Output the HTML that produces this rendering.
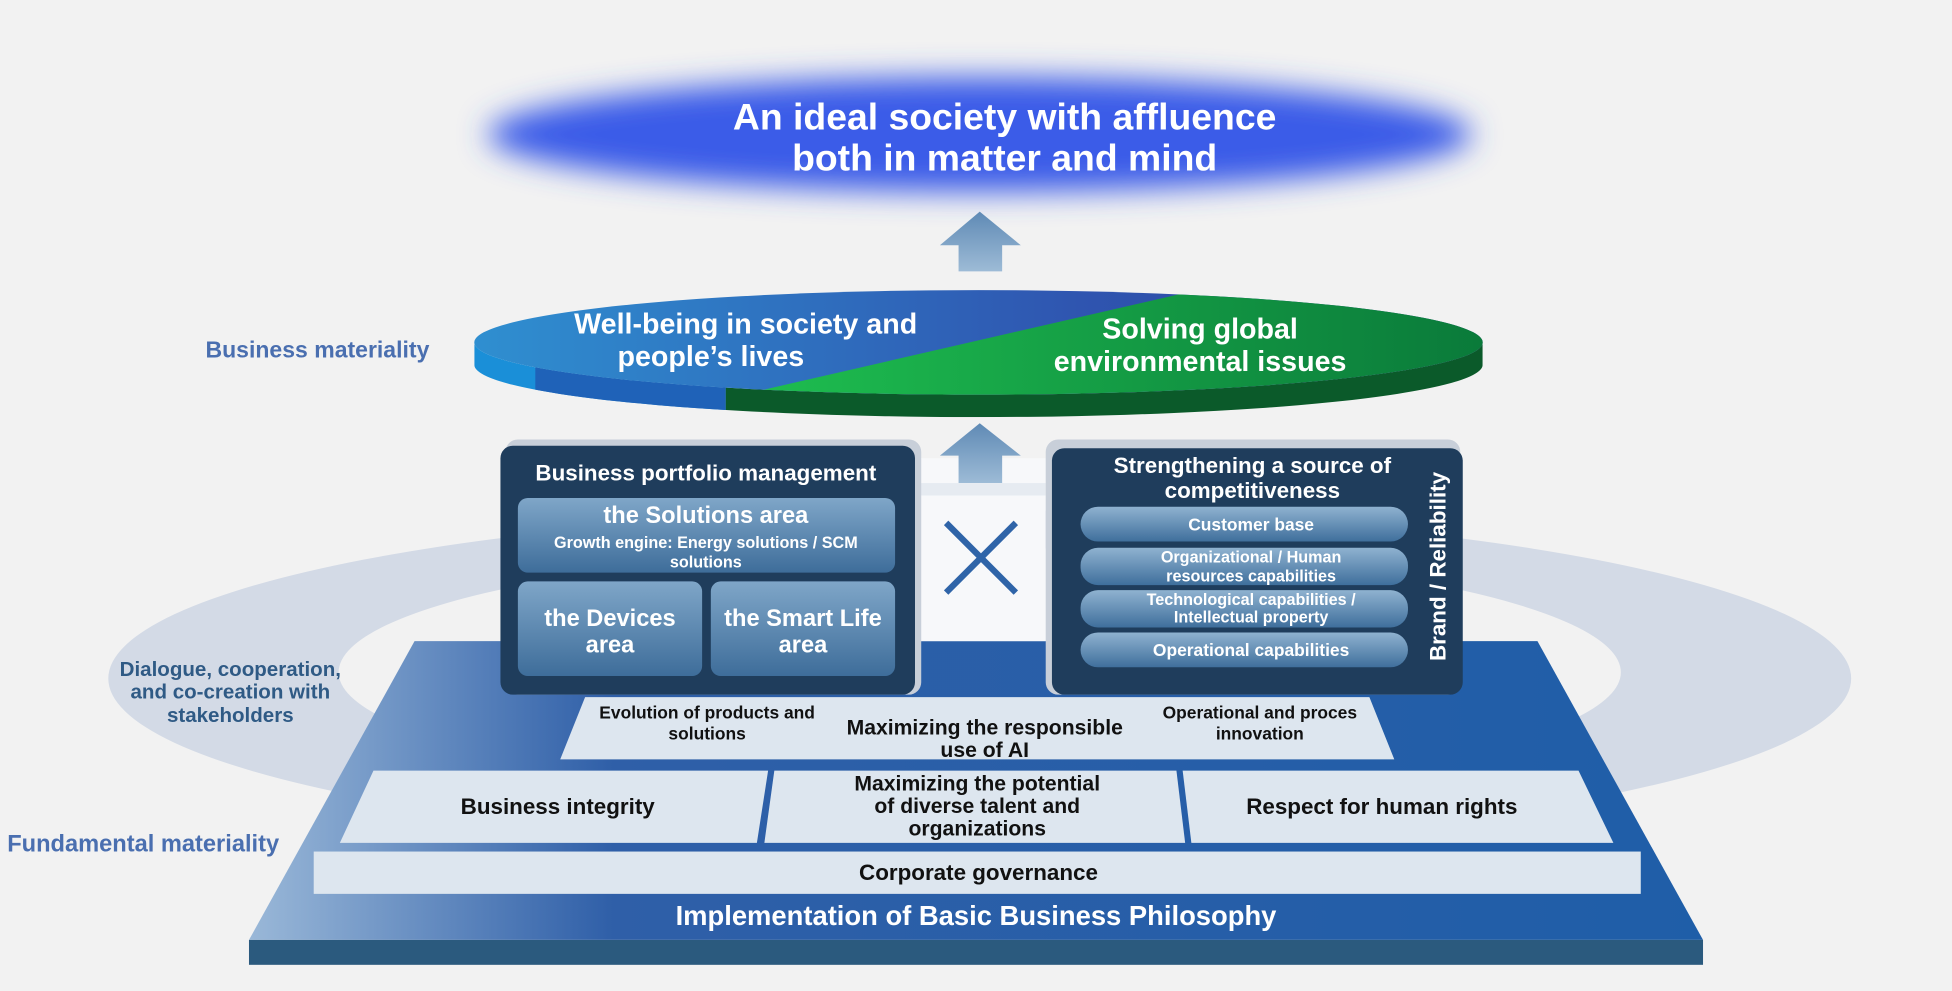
<!DOCTYPE html>
<html><head><meta charset="utf-8"><style>
html,body{margin:0;padding:0;background:#f2f2f2;width:1952px;height:991px;overflow:hidden}
svg{display:block}
text{font-family:"Liberation Sans",Arial,sans-serif;font-weight:bold}
</style></head><body>
<svg width="1952" height="991" viewBox="0 0 1568 796" xmlns="http://www.w3.org/2000/svg">
<defs>
<filter id="blur" x="-20%" y="-60%" width="140%" height="220%"><feGaussianBlur stdDeviation="12"/></filter>
<linearGradient id="plat" x1="0" x2="1" y1="0" y2="0">
<stop offset="0" stop-color="#9ab8d8"/><stop offset="0.25" stop-color="#2f5fa8"/><stop offset="1" stop-color="#1f5ea8"/></linearGradient>
<linearGradient id="arr" x1="0" x2="0" y1="0" y2="1"><stop offset="0" stop-color="#5f8ab5"/><stop offset="1" stop-color="#9dbbd6"/></linearGradient>
<linearGradient id="blueTop" x1="0" x2="1"><stop offset="0" stop-color="#2f8fd0"/><stop offset="0.6" stop-color="#2f55b0"/><stop offset="1" stop-color="#2a3f9a"/></linearGradient>
<linearGradient id="greenTop" x1="0" x2="1"><stop offset="0" stop-color="#1fc050"/><stop offset="1" stop-color="#0a7a3a"/></linearGradient>
<linearGradient id="sub" x1="0" x2="0" y1="0" y2="1"><stop offset="0" stop-color="#7fa6c8"/><stop offset="1" stop-color="#3e6d9a"/></linearGradient>
<linearGradient id="pill" x1="0" x2="0" y1="0" y2="1"><stop offset="0" stop-color="#8fb2d0"/><stop offset="1" stop-color="#3f6f9c"/></linearGradient>
<clipPath id="disc"><ellipse cx="786" cy="275" rx="405" ry="42"/></clipPath>
<clipPath id="side"><path d="M381 275 A405 42 0 0 0 1191 275 L1191 293 A405 42 0 0 1 381 293 Z"/></clipPath>
</defs>

<ellipse cx="787" cy="545" rx="700" ry="135" fill="#d3dae6"/>
<ellipse cx="787" cy="540" rx="515" ry="100" fill="#f2f2f2"/>

<ellipse cx="787" cy="108" rx="395" ry="46" fill="#3a5ce8" filter="url(#blur)"/>
<text x="807" y="104" font-size="30" fill="#fff" text-anchor="middle">An ideal society with affluence</text>
<text x="807" y="137" font-size="30" fill="#fff" text-anchor="middle">both in matter and mind</text>

<path d="M755 197 L787 170 L820 197 L805 197 L805 218 L770 218 L770 197 Z" fill="url(#arr)"/>

<g clip-path="url(#side)">
<rect x="380" y="270" width="203" height="70" fill="#1a8fd8"/>
<rect x="430" y="270" width="153" height="70" fill="#1f62b8"/>
<rect x="583" y="270" width="610" height="70" fill="#0b5a2a"/>
</g>
<g clip-path="url(#disc)">
<rect x="380" y="230" width="812" height="90" fill="url(#blueTop)"/>
<polygon points="975,230 1195,230 1195,320 583,320" fill="url(#greenTop)"/>
</g>
<text x="599" y="268" font-size="23" fill="#fff" text-anchor="middle">Well-being in society and</text>
<text x="571" y="294" font-size="23" fill="#fff" text-anchor="middle">people’s lives</text>
<text x="964" y="272" font-size="23" fill="#fff" text-anchor="middle">Solving global</text>
<text x="964" y="298" font-size="23" fill="#fff" text-anchor="middle">environmental issues</text>
<text x="255" y="287" font-size="18.5" fill="#4a6fb0" text-anchor="middle">Business materiality</text>

<polygon points="333,515 1235,515 1368,755 200,755" fill="url(#plat)"/>
<rect x="200" y="755" width="1168" height="20" fill="#2b5a7e"/>
<polygon points="470,560 1100,560 1120,610 450,610" fill="#dde6ef"/>
<polygon points="300,619 617,619 608,677 273,677" fill="#dde6ef"/>
<polygon points="622,619 945,619 952,677 614,677" fill="#dde6ef"/>
<polygon points="950,619 1268,619 1296,677 957,677" fill="#dde6ef"/>
<rect x="252" y="684" width="1066" height="34" fill="#dde6ef"/>
<text x="568" y="577" font-size="14" fill="#111" text-anchor="middle">Evolution of products and</text>
<text x="568" y="594" font-size="14" fill="#111" text-anchor="middle">solutions</text>
<text x="791" y="590" font-size="17" fill="#111" text-anchor="middle">Maximizing the responsible</text>
<text x="791" y="608" font-size="17" fill="#111" text-anchor="middle">use of AI</text>
<text x="1012" y="577" font-size="14" fill="#111" text-anchor="middle">Operational and proces</text>
<text x="1012" y="594" font-size="14" fill="#111" text-anchor="middle">innovation</text>
<text x="448" y="654" font-size="18" fill="#111" text-anchor="middle">Business integrity</text>
<text x="785" y="635" font-size="17" fill="#111" text-anchor="middle">Maximizing the potential</text>
<text x="785" y="653" font-size="17" fill="#111" text-anchor="middle">of diverse talent and</text>
<text x="785" y="671" font-size="17" fill="#111" text-anchor="middle">organizations</text>
<text x="1110" y="654" font-size="18" fill="#111" text-anchor="middle">Respect for human rights</text>
<text x="786" y="707" font-size="18" fill="#111" text-anchor="middle">Corporate governance</text>
<text x="784" y="743" font-size="22" fill="#fff" text-anchor="middle">Implementation of Basic Business Philosophy</text>

<rect x="738" y="368" width="102" height="147" fill="#f7f8fa"/>
<rect x="738" y="388" width="102" height="10" fill="#e6ebf1"/>
<path d="M755 366 L787 340 L820 366 L805 366 L805 388 L770 388 L770 366 Z" fill="url(#arr)"/>
<path d="M760 420 L816 476 M816 420 L760 476" stroke="#2f64a8" stroke-width="5"/>

<rect x="406" y="353" width="334" height="205" rx="10" fill="#c8cfd9"/>
<rect x="402" y="358" width="333" height="200" rx="10" fill="#1f3d5c"/>
<text x="567" y="386" font-size="18" fill="#fff" text-anchor="middle">Business portfolio management</text>
<rect x="416" y="400" width="303" height="60" rx="8" fill="url(#sub)"/>
<text x="567" y="420" font-size="19" fill="#fff" text-anchor="middle">the Solutions area</text>
<text x="567" y="440" font-size="13" fill="#fff" text-anchor="middle">Growth engine: Energy solutions / SCM</text>
<text x="567" y="456" font-size="13" fill="#fff" text-anchor="middle">solutions</text>
<rect x="416" y="467" width="148" height="76" rx="8" fill="url(#sub)"/>
<rect x="571" y="467" width="148" height="76" rx="8" fill="url(#sub)"/>
<text x="490" y="503" font-size="19" fill="#fff" text-anchor="middle">the Devices</text>
<text x="490" y="524" font-size="19" fill="#fff" text-anchor="middle">area</text>
<text x="645" y="503" font-size="19" fill="#fff" text-anchor="middle">the Smart Life</text>
<text x="645" y="524" font-size="19" fill="#fff" text-anchor="middle">area</text>

<rect x="840" y="353" width="333" height="205" rx="10" fill="#c8cfd9"/>
<rect x="845" y="360" width="330" height="198" rx="10" fill="#1f3d5c"/>
<text x="1006" y="380" font-size="18" fill="#fff" text-anchor="middle">Strengthening a source of</text>
<text x="1006" y="400" font-size="18" fill="#fff" text-anchor="middle">competitiveness</text>
<rect x="868" y="407" width="263" height="28" rx="14" fill="url(#pill)"/>
<rect x="868" y="440" width="263" height="30" rx="14" fill="url(#pill)"/>
<rect x="868" y="474" width="263" height="30" rx="14" fill="url(#pill)"/>
<rect x="868" y="508" width="263" height="28" rx="14" fill="url(#pill)"/>
<text x="1005" y="426" font-size="14" fill="#fff" text-anchor="middle">Customer base</text>
<text x="1005" y="452" font-size="13" fill="#fff" text-anchor="middle">Organizational / Human</text>
<text x="1005" y="467" font-size="13" fill="#fff" text-anchor="middle">resources capabilities</text>
<text x="1005" y="486" font-size="13" fill="#fff" text-anchor="middle">Technological capabilities /</text>
<text x="1005" y="500" font-size="13" fill="#fff" text-anchor="middle">Intellectual property</text>
<text x="1005" y="527" font-size="14" fill="#fff" text-anchor="middle">Operational capabilities</text>
<text x="1161" y="455" font-size="18" fill="#fff" text-anchor="middle" transform="rotate(-90 1161 455)">Brand / Reliability</text>

<text x="185" y="543" font-size="16.5" fill="#2f5a85" text-anchor="middle">Dialogue, cooperation,</text>
<text x="185" y="561" font-size="16.5" fill="#2f5a85" text-anchor="middle">and co-creation with</text>
<text x="185" y="580" font-size="16.5" fill="#2f5a85" text-anchor="middle">stakeholders</text>
<text x="115" y="684" font-size="19" fill="#4a6fb0" text-anchor="middle">Fundamental materiality</text>
</svg>
</body></html>
